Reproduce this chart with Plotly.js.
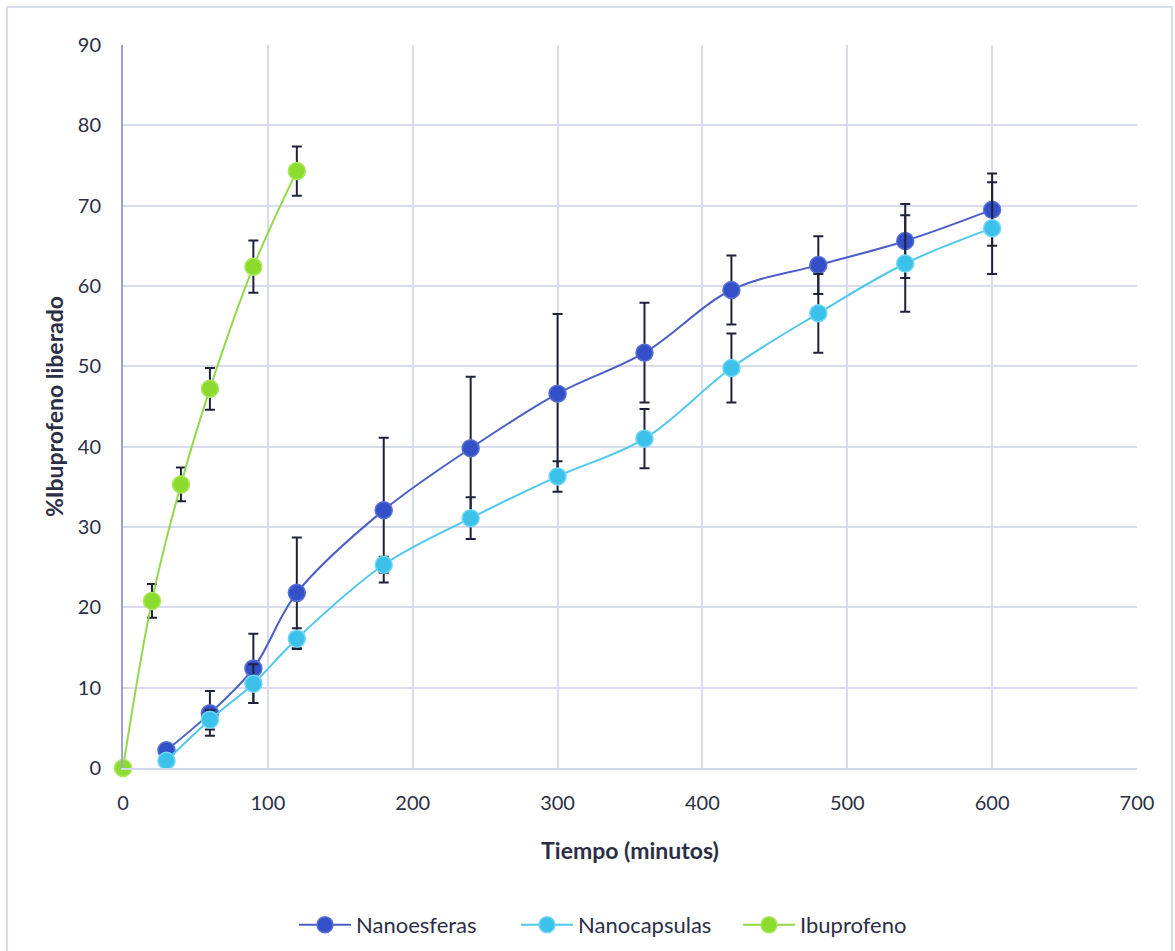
<!DOCTYPE html>
<html>
<head>
<meta charset="utf-8">
<script src="https://cdn.plot.ly/plotly-3.0.1.min.js"></script>
<style>
  html, body { margin: 0; padding: 0; background: #ffffff; }
  #wrap { position: relative; width: 1175px; height: 951px; }
  #chart { width: 1175px; height: 951px; }
  #frame { position: absolute; left: 6px; top: 6px; width: 1167px; height: 960px;
           border: 2px solid #d9dbef; box-sizing: border-box; pointer-events: none; }
</style>
</head>
<body>
<div id="wrap">
  <div id="chart"></div>
  <div id="frame"></div>
</div>
<script>
// ---- data ----
const seriesNames = ["Nanoesferas", "Nanocapsulas", "Ibuprofeno"];

const timeNano = [30, 60, 90, 120, 180, 240, 300, 360, 420, 480, 540, 600];
const nanoesferas = [2.2, 6.8, 12.4, 21.8, 32.1, 39.8, 46.6, 51.7, 59.5, 62.6, 65.6, 69.5];
const nanoesferasErr = [0.5, 2.8, 4.3, 6.9, 9.0, 8.9, 9.9, 6.2, 4.3, 3.6, 4.6, 4.5];

const nanocapsulas = [0.9, 6.0, 10.5, 16.1, 25.3, 31.1, 36.3, 41.0, 49.8, 56.6, 62.8, 67.2];
const nanocapsulasErr = [0.3, 1.2, 2.4, 1.3, 1.0, 2.6, 1.9, 3.7, 4.3, 4.9, 6.0, 5.7];

const timeIbu = [0, 20, 40, 60, 90, 120];
const ibuprofeno = [0, 20.8, 35.3, 47.2, 62.4, 74.3];
const ibuprofenoErr = [0, 2.1, 2.1, 2.6, 3.25, 3.05];

const xTicks = [0, 100, 200, 300, 400, 500, 600, 700];
const yTicks = [0, 10, 20, 30, 40, 50, 60, 70, 80, 90];

// ---- styles ----
const FONT = "Lato, 'Noto Sans', sans-serif";
const TXT = "#2b2e45";
const errStyle = { type: "data", visible: true, color: "#1e2238", thickness: 2, width: 5 };

function trace(name, x, y, err, lineColor, fill, edge) {
  return {
    type: "scatter", mode: "lines+markers", name: name,
    x: x, y: y,
    line: { color: lineColor, width: 2, shape: "spline", smoothing: 1 },
    marker: { size: 17, color: fill, line: { color: edge, width: 1.5 } },
    error_y: Object.assign({ array: err }, errStyle),
    cliponaxis: false
  };
}

const data = [
  trace(seriesNames[0], timeNano, nanoesferas, nanoesferasErr, "#4a5fc6", "#3350c8", "#5a71d4"),
  trace(seriesNames[1], timeNano, nanocapsulas, nanocapsulasErr, "#4ec8ec", "#3cc2ea", "#6fd6f3"),
  trace(seriesNames[2], timeIbu, ibuprofeno, ibuprofenoErr, "#93d84a", "#8bdc2e", "#a8e85c")
];

const layout = {
  width: 1175, height: 951,
  paper_bgcolor: "#ffffff", plot_bgcolor: "#ffffff",
  margin: { l: 123, r: 38, t: 45, b: 183, autoexpand: false },
  font: { family: FONT, color: TXT, size: 20 },
  showlegend: true,
  legend: {
    orientation: "h", xref: "container", x: 294 / 1175, xanchor: "left",
    yref: "container", y: 1 - 925 / 951, yanchor: "middle",
    font: { family: FONT, size: 22, color: TXT }, itemwidth: 52, entrywidth: 155,
    tracegroupgap: 0
  },
  xaxis: {
    range: [0, 700], tickvals: xTicks, ticktext: xTicks.map(String),
    showgrid: true, gridcolor: "#d9dbee", gridwidth: 2,
    zeroline: false, showline: true, linecolor: "#d4d7ec", linewidth: 2,
    ticks: "", ticklabelstandoff: 16,
    tickfont: { family: FONT, size: 20, color: TXT },
    title: { text: "<b>Tiempo (minutos)</b>", font: { family: FONT, size: 23, color: TXT }, standoff: 30 }
  },
  yaxis: {
    range: [0, 90], tickvals: yTicks, ticktext: yTicks.map(String),
    showgrid: true, gridcolor: "#d9dbee", gridwidth: 2,
    zeroline: false, showline: true, linecolor: "#9ba1d3", linewidth: 2,
    ticks: "", ticklabelstandoff: 16,
    tickfont: { family: FONT, size: 20, color: TXT },
    title: { text: "<b>%Ibuprofeno liberado</b>", font: { family: FONT, size: 23, color: TXT }, standoff: 8 }
  }
};

Plotly.newPlot("chart", data, layout, { displayModeBar: false, staticPlot: true });
</script>
</body>
</html>
